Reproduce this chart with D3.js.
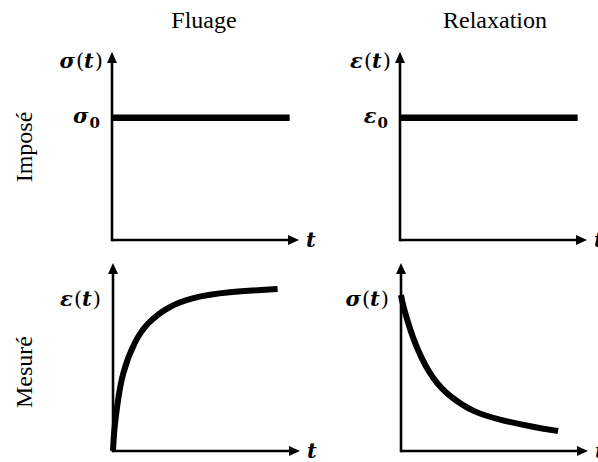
<!DOCTYPE html>
<html><head><meta charset="utf-8">
<script src="https://cdn.jsdelivr.net/npm/d3@7"></script>
<style>
html,body{margin:0;padding:0;background:#fff;}
svg{display:block;}
</style></head>
<body>
<script>
// ---- data ----
const columnTitles = ["Fluage", "Relaxation"];
const rowTitles = ["Imposé", "Mesuré"];
const imposedT = [0, 9.5];
const sigma0 = 6.5;
const eps0 = 6.5;
const creepT   = [0, 0.05, 0.21, 0.48, 1.18, 1.82, 2.89, 4.28, 6.1, 8.8];
const creepEps = [0, 1.0, 2.34, 4.15, 5.9, 6.8, 7.66, 8.19, 8.46, 8.62];
const relaxT     = [0, 0.05, 0.32, 0.86, 1.71, 2.62, 3.85, 5.29, 7.06, 8.4];
const relaxSigma = [8.3, 8.0, 6.97, 5.37, 3.78, 2.87, 2.07, 1.65, 1.28, 1.06];
const tDomain = [0, 10];
const vDomain = [0, 10];

const W = 598, H = 462;
const svg = d3.select("body").append("svg").attr("width", W).attr("height", H);

const pw = 187, ph = 188;
const panels = [
  {ox: 112, oy: 240, kind: "imposed", yLab: "σ", level: sigma0},
  {ox: 400, oy: 240, kind: "imposed", yLab: "ε", level: eps0},
  {ox: 113, oy: 451, kind: "creep", yLab: "ε"},
  {ox: 401, oy: 451, kind: "relax", yLab: "σ"}
];

const mathFont = "'DejaVu Serif', 'Liberation Serif', serif";

function mathLabel(g, xPos, yPos, sym, withT, withSub) {
  const t = g.append("text").attr("x", xPos).attr("y", yPos).attr("text-anchor", "end")
    .attr("font-family", mathFont).attr("font-weight", "bold").attr("font-size", 21);
  t.append("tspan").attr("font-style", "italic").text(sym);
  if (withT) {
    t.append("tspan").attr("font-weight", "normal").attr("dx", 1).text("(");
    t.append("tspan").attr("font-style", "italic").text("t");
    t.append("tspan").attr("font-weight", "normal").attr("dx", 1).text(")");
  }
  if (withSub) {
    t.append("tspan").attr("dy", 5).attr("dx", 1).attr("font-size", 15).text("0");
  }
  return t;
}

panels.forEach(p => {
  const x = d3.scaleLinear().domain(tDomain).range([p.ox, p.ox + pw]);
  const y = d3.scaleLinear().domain(vDomain).range([p.oy, p.oy - ph]);
  const g = svg.append("g");
  // axes
  g.append("line").attr("x1", x(0)).attr("y1", y(0)).attr("x2", x(10) - 8).attr("y2", y(0))
    .attr("stroke", "#000").attr("stroke-width", 2.6);
  g.append("line").attr("x1", x(0)).attr("y1", y(0) + 1.3).attr("x2", x(0)).attr("y2", y(10) + 8)
    .attr("stroke", "#000").attr("stroke-width", 2.6);
  // arrowheads
  g.append("path").attr("d", `M${x(10)},${y(0)}L${x(10)-11},${y(0)-5}L${x(10)-11},${y(0)+5}Z`).attr("fill", "#000");
  g.append("path").attr("d", `M${x(0)},${y(10)}L${x(0)-5},${y(10)+11}L${x(0)+5},${y(10)+11}Z`).attr("fill", "#000");
  // t label
  g.append("text").attr("x", x(10) + 7).attr("y", y(0) + 7)
    .attr("font-family", mathFont).attr("font-weight", "bold").attr("font-style", "italic")
    .attr("font-size", 21).text("t");
  if (p.kind === "imposed") {
    mathLabel(g, x(0) - 9, y(10) + 16, p.yLab, true, false);
    mathLabel(g, x(0) - 12, y(p.level) + 5, p.yLab, false, true);
    const line = d3.line().x(d => x(d)).y(() => y(p.level));
    g.append("path").attr("d", line(imposedT)).attr("fill", "none").attr("stroke", "#000").attr("stroke-width", 6.5);
  } else {
    mathLabel(g, x(0) - 12, y(10) + 43, p.yLab, true, false);
    const ts = p.kind === "creep" ? creepT : relaxT;
    const vs = p.kind === "creep" ? creepEps : relaxSigma;
    const pts = ts.map((t, i) => [t, vs[i]]);
    const line = d3.line().x(d => x(d[0])).y(d => y(d[1])).curve(d3.curveBasis);
    g.append("path").attr("d", line(pts)).attr("fill", "none").attr("stroke", "#000")
      .attr("stroke-width", 6).attr("stroke-linejoin", "round");
  }
});

// column / row titles
const titleFont = "'Liberation Serif', 'Times New Roman', serif";
[[204, columnTitles[0]], [495, columnTitles[1]]].forEach(([cx, t]) => {
  svg.append("text").attr("x", cx).attr("y", 28).attr("text-anchor", "middle")
    .attr("font-family", titleFont).attr("font-size", 24).text(t);
});
[[147, rowTitles[0]], [372, rowTitles[1]]].forEach(([cy, t]) => {
  svg.append("text").attr("transform", `translate(32,${cy}) rotate(-90)`).attr("text-anchor", "middle")
    .attr("font-family", titleFont).attr("font-size", 24).text(t);
});
</script>
</body></html>
